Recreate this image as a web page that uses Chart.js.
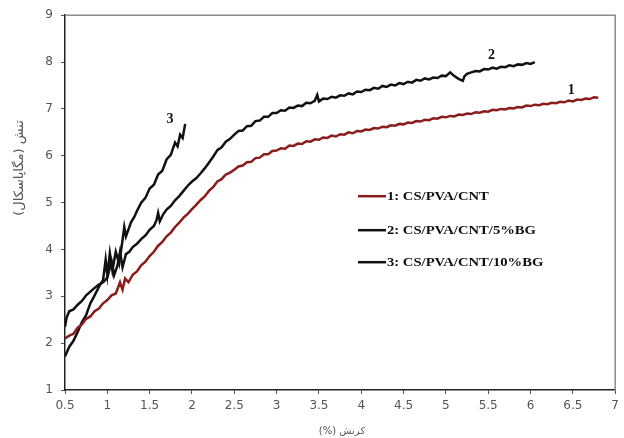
<!DOCTYPE html>
<html>
<head>
<meta charset="utf-8">
<script src="https://cdn.jsdelivr.net/npm/chart.js@4.4.0/dist/chart.umd.min.js"></script>
<style>
html,body{margin:0;padding:0;background:#fff;}
canvas{display:block;}
</style>
</head>
<body>
<canvas id="c" width="624" height="438"></canvas>
<script>
// ---- data ----
const seriesNames = ["1: CS/PVA/CNT", "2: CS/PVA/CNT/5%BG", "3: CS/PVA/CNT/10%BG"];
const curveTags = ["1", "2", "3"];

const strain1 = [0.50,0.55,0.60,0.65,0.70,0.75,0.80,0.85,0.90,0.95,1.00,1.05,1.10,1.15,1.18,1.21,1.25,1.30,1.35,1.40,1.45,1.50,1.55,1.60,1.65,1.70,1.75,1.80,1.85,1.90,1.95,2.00,2.05,2.10,2.15,2.20,2.25,2.30,2.35,2.40,2.45,
  2.50,2.55,2.60,2.65,2.70,2.75,2.80,2.85,2.90,2.95,3.00,3.05,3.10,3.15,3.20,3.25,3.30,3.35,3.40,3.45,3.50,3.55,3.60,3.65,3.70,3.75,3.80,3.85,3.90,3.95,
  4.00,4.05,4.10,4.15,4.20,4.25,4.30,4.35,4.40,4.45,4.50,4.55,4.60,4.65,4.70,4.75,4.80,4.85,4.90,4.95,
  5.00,5.05,5.10,5.15,5.20,5.25,5.30,5.35,5.40,5.45,5.50,5.55,5.60,5.65,5.70,5.75,5.80,5.85,5.90,5.95,
  6.00,6.05,6.10,6.15,6.20,6.25,6.30,6.35,6.40,6.45,6.50,6.55,6.60,6.65,6.70,6.75,6.80];
const stress1 = [2.10,2.16,2.20,2.33,2.40,2.52,2.57,2.68,2.74,2.85,2.92,3.02,3.06,3.30,3.14,3.38,3.30,3.46,3.53,3.66,3.74,3.86,3.95,4.08,4.16,4.28,4.36,4.48,4.57,4.68,4.76,4.86,4.95,5.05,5.13,5.25,5.33,5.45,5.50,5.60,5.64,
  5.70,5.77,5.79,5.86,5.87,5.95,5.96,6.03,6.03,6.10,6.11,6.16,6.15,6.22,6.21,6.26,6.25,6.31,6.30,6.35,6.34,6.39,6.38,6.43,6.41,6.46,6.45,6.50,6.48,6.53,
  6.52,6.56,6.55,6.59,6.58,6.62,6.61,6.65,6.64,6.68,6.67,6.71,6.70,6.74,6.73,6.77,6.76,6.80,6.79,6.83,
  6.82,6.85,6.84,6.88,6.87,6.90,6.89,6.93,6.92,6.95,6.94,6.98,6.97,7.00,6.99,7.02,7.01,7.04,7.03,7.07,
  7.06,7.09,7.08,7.11,7.10,7.13,7.12,7.15,7.14,7.18,7.16,7.20,7.19,7.22,7.21,7.25,7.24];

const strain2 = [0.50,0.52,0.55,0.60,0.65,0.70,0.75,0.80,0.85,0.90,0.95,1.00,1.05,1.08,1.12,1.15,1.18,1.22,1.26,1.30,1.35,1.40,1.45,1.50,1.55,1.58,1.60,1.62,1.66,1.70,1.75,1.80,1.85,1.90,1.95,2.00,2.05,2.10,2.15,2.20,2.25,2.30,2.35,2.40,2.45,
  2.50,2.55,2.60,2.65,2.70,2.75,2.80,2.85,2.90,2.95,3.00,3.05,3.10,3.15,3.20,3.25,3.30,3.35,3.40,3.45,3.48,3.50,3.55,3.60,3.65,3.70,3.75,3.80,3.85,3.90,3.95,
  4.00,4.05,4.10,4.15,4.20,4.25,4.30,4.35,4.40,4.45,4.50,4.55,4.60,4.65,4.70,4.75,4.80,4.85,4.90,4.95,
  5.00,5.05,5.10,5.15,5.20,5.22,5.25,5.30,5.35,5.40,5.45,5.50,5.55,5.60,5.65,5.70,5.75,5.80,5.85,5.90,5.95,6.00,6.05];
const stress2 = [2.35,2.55,2.68,2.72,2.82,2.90,3.02,3.10,3.18,3.25,3.30,3.40,3.75,3.45,3.66,3.95,3.62,3.90,3.95,4.05,4.12,4.22,4.30,4.42,4.50,4.62,4.78,4.60,4.75,4.85,4.93,5.05,5.14,5.25,5.36,5.45,5.52,5.62,5.73,5.85,5.98,6.12,6.18,6.30,6.36,
  6.45,6.53,6.54,6.63,6.64,6.74,6.75,6.83,6.83,6.91,6.91,6.97,6.96,7.03,7.02,7.07,7.06,7.13,7.12,7.17,7.30,7.16,7.22,7.21,7.26,7.24,7.29,7.28,7.33,7.31,7.37,
  7.36,7.41,7.40,7.45,7.43,7.49,7.47,7.52,7.50,7.55,7.53,7.58,7.56,7.62,7.60,7.65,7.63,7.67,7.66,7.71,
  7.70,7.78,7.70,7.64,7.60,7.70,7.75,7.78,7.81,7.80,7.85,7.84,7.88,7.86,7.90,7.89,7.93,7.91,7.95,7.94,7.98,7.96,8.00];

const strain3 = [0.50,0.55,0.60,0.65,0.70,0.75,0.80,0.85,0.90,0.95,0.98,1.00,1.03,1.06,1.10,1.14,1.18,1.20,1.22,1.28,1.32,1.35,1.40,1.45,1.50,1.55,1.60,1.65,1.70,1.75,1.80,1.83,1.86,1.89,1.92];
const stress3 = [1.72,1.92,2.05,2.24,2.45,2.60,2.85,3.02,3.20,3.35,3.78,3.45,3.92,3.55,3.95,3.70,4.20,4.48,4.28,4.58,4.70,4.82,5.00,5.10,5.30,5.38,5.60,5.68,5.92,6.02,6.28,6.20,6.45,6.38,6.68];

const xTickMin = 0.5, xTickMax = 7, xStep = 0.5;
const yTickMin = 1, yTickMax = 9, yStep = 1;

const xTitle = "کرنش (%)";
const yTitle = "تنش (مگاپاسکال)";

const colors = ["#8a1c1c", "#111111", "#111111"];

function pts(xs, ys){ return xs.map((x,i)=>({x:x, y:ys[i]})); }

const tagPos = [[6.48,7.40],[5.54,8.15],[1.74,6.77]];

const overlay = {
  id: 'overlay',
  beforeDatasetsDraw(chart){
    const {ctx, chartArea:a} = chart;
    ctx.save();
    ctx.strokeStyle = '#8c8c8c';
    ctx.lineWidth = 1.5;
    ctx.beginPath();
    ctx.moveTo(a.left, a.top);
    ctx.lineTo(a.right, a.top);
    ctx.lineTo(a.right, a.bottom);
    ctx.stroke();
    ctx.restore();
  },
  afterDraw(chart){
    const {ctx, chartArea:a, scales} = chart;
    ctx.save();
    // legend
    const rows = [181, 215, 247];
    chart.data.datasets.forEach((ds,i)=>{
      const y = a.top + rows[i];
      const x0 = a.left + 293;
      ctx.strokeStyle = ds.borderColor;
      ctx.lineWidth = 2.5;
      ctx.beginPath();
      ctx.moveTo(x0, y); ctx.lineTo(x0+28, y); ctx.stroke();
      ctx.save();
      ctx.translate(x0+29, y);
      ctx.scale(1.22, 1);
      ctx.fillStyle = '#111';
      ctx.font = 'bold 12px "Liberation Serif", serif';
      ctx.textBaseline = 'middle';
      ctx.textAlign = 'left';
      ctx.fillText(ds.label, 0, 1);
      ctx.restore();
    });
    // curve tags
    ctx.font = 'bold 14px "Liberation Serif", serif';
    ctx.fillStyle = '#111';
    ctx.textAlign = 'center';
    ctx.textBaseline = 'middle';
    curveTags.forEach((t,i)=>{
      ctx.fillText(t, scales.x.getPixelForValue(tagPos[i][0]), scales.y.getPixelForValue(tagPos[i][1]));
    });
    // axis titles
    ctx.fillStyle = '#555';
    ctx.font = '10px "DejaVu Sans", sans-serif';
    ctx.direction = 'rtl';
    ctx.textAlign = 'center';
    ctx.fillText(xTitle, 342, 431);
    ctx.save();
    ctx.translate(20, 168);
    ctx.rotate(-Math.PI/2);
    ctx.font = '13px "DejaVu Sans", sans-serif';
    ctx.fillText(yTitle, 0, 0);
    ctx.restore();
    ctx.restore();
  }
};

new Chart(document.getElementById('c'), {
  type: 'scatter',
  data: {
    datasets: [
      {label: seriesNames[0], data: pts(strain1, stress1)},
      {label: seriesNames[1], data: pts(strain2, stress2)},
      {label: seriesNames[2], data: pts(strain3, stress3)}
    ].map((d,i)=>Object.assign(d, {
      showLine: true, borderColor: colors[i], backgroundColor: colors[i],
      borderWidth: 2.5, pointRadius: 0, tension: 0, fill: false
    }))
  },
  options: {
    responsive: false,
    animation: false,
    layout: {padding: {top: 12, right: 2, left: 0, bottom: 0}},
    plugins: {legend: {display: false}, tooltip: {enabled: false}},
    scales: {
      x: {
        type: 'linear', min: xTickMin, max: xTickMax,
        afterFit: s => { s.height = 48; },
        ticks: {stepSize: xStep, color: '#555', padding: 5,
                font: {family: '"DejaVu Sans", sans-serif', size: 12},
                maxRotation: 0, autoSkip: false,
                callback: v => String(Math.round(v * 10) / 10)},
        grid: {display: true, drawOnChartArea: false, drawTicks: true, tickLength: 4, color: '#555'},
        border: {display: true, color: '#222', width: 1.5}
      },
      y: {
        type: 'linear', min: yTickMin, max: yTickMax,
        afterFit: s => { s.width = 65; },
        ticks: {stepSize: yStep, color: '#555', padding: 8,
                font: {family: '"DejaVu Sans", sans-serif', size: 12}},
        grid: {display: true, drawOnChartArea: false, drawTicks: true, tickLength: 4, color: '#555'},
        border: {display: true, color: '#222', width: 1.5}
      }
    }
  },
  plugins: [overlay]
});
</script>
</body>
</html>
